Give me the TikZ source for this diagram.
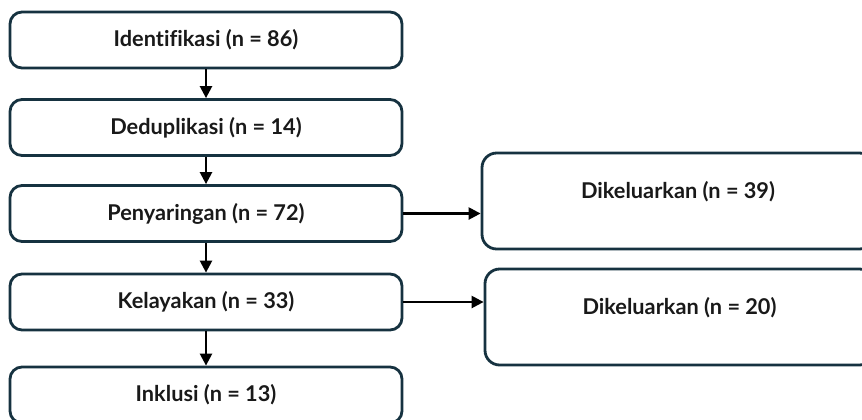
\documentclass[tikz,border=0pt]{standalone}
\usepackage{fontspec}
\setmainfont{Lato}[UprightFont=* Bold, Ligatures={NoCommon}]
\usetikzlibrary{arrows.meta}

\definecolor{boxline}{RGB}{22,50,64}

\tikzset{
  stage/.style={draw=boxline, line width=2.1pt, rounded corners=9pt, fill=white,
    minimum width=392*0.75pt, minimum height=56*0.75pt, inner sep=0pt,
    font=\fontsize{16.3}{19}\selectfont, text=black!90},
  excluded/.style={stage, minimum width=392*0.75pt, minimum height=96*0.75pt,
    rounded corners=11pt, text depth=16pt},
  flow/.style={-{Triangle[length=9pt, width=9pt]}, line width=1.8pt, black}
}

\begin{document}
\begin{tikzpicture}[x=0.75pt, y=-0.75pt]
\useasboundingbox (0,0) rectangle (862,419);

% Main stages
\node[stage] (ident)  at (206, 40)    {Identifikasi (n = 86)};
\node[stage] (dedup)  at (206, 127.5) {Deduplikasi (n = 14)};
\node[stage] (screen) at (206, 213.5) {Penyaringan (n = 72)};
\node[stage] (elig)   at (206, 302)   {Kelayakan (n = 33)};
\node[stage] (incl)   at (206, 395)   {Inklusi (n = 13)};

% Excluded records
\node[excluded] (excl1) at (678, 201) {Dikeluarkan (n = 39)};
\node[excluded, minimum width=389*0.75pt] (excl2) at (679.5, 317) {Dikeluarkan (n = 20)};

% Arrows
\draw[flow] (ident) -- (dedup);
\draw[flow] (dedup) -- (screen);
\draw[flow] (screen) -- (elig);
\draw[flow] (elig) -- (incl);

\draw[flow] (screen.east) -- (screen.east -| excl1.west);
\draw[flow] (elig.east) -- (elig.east -| excl2.west);
\end{tikzpicture}
\end{document}
